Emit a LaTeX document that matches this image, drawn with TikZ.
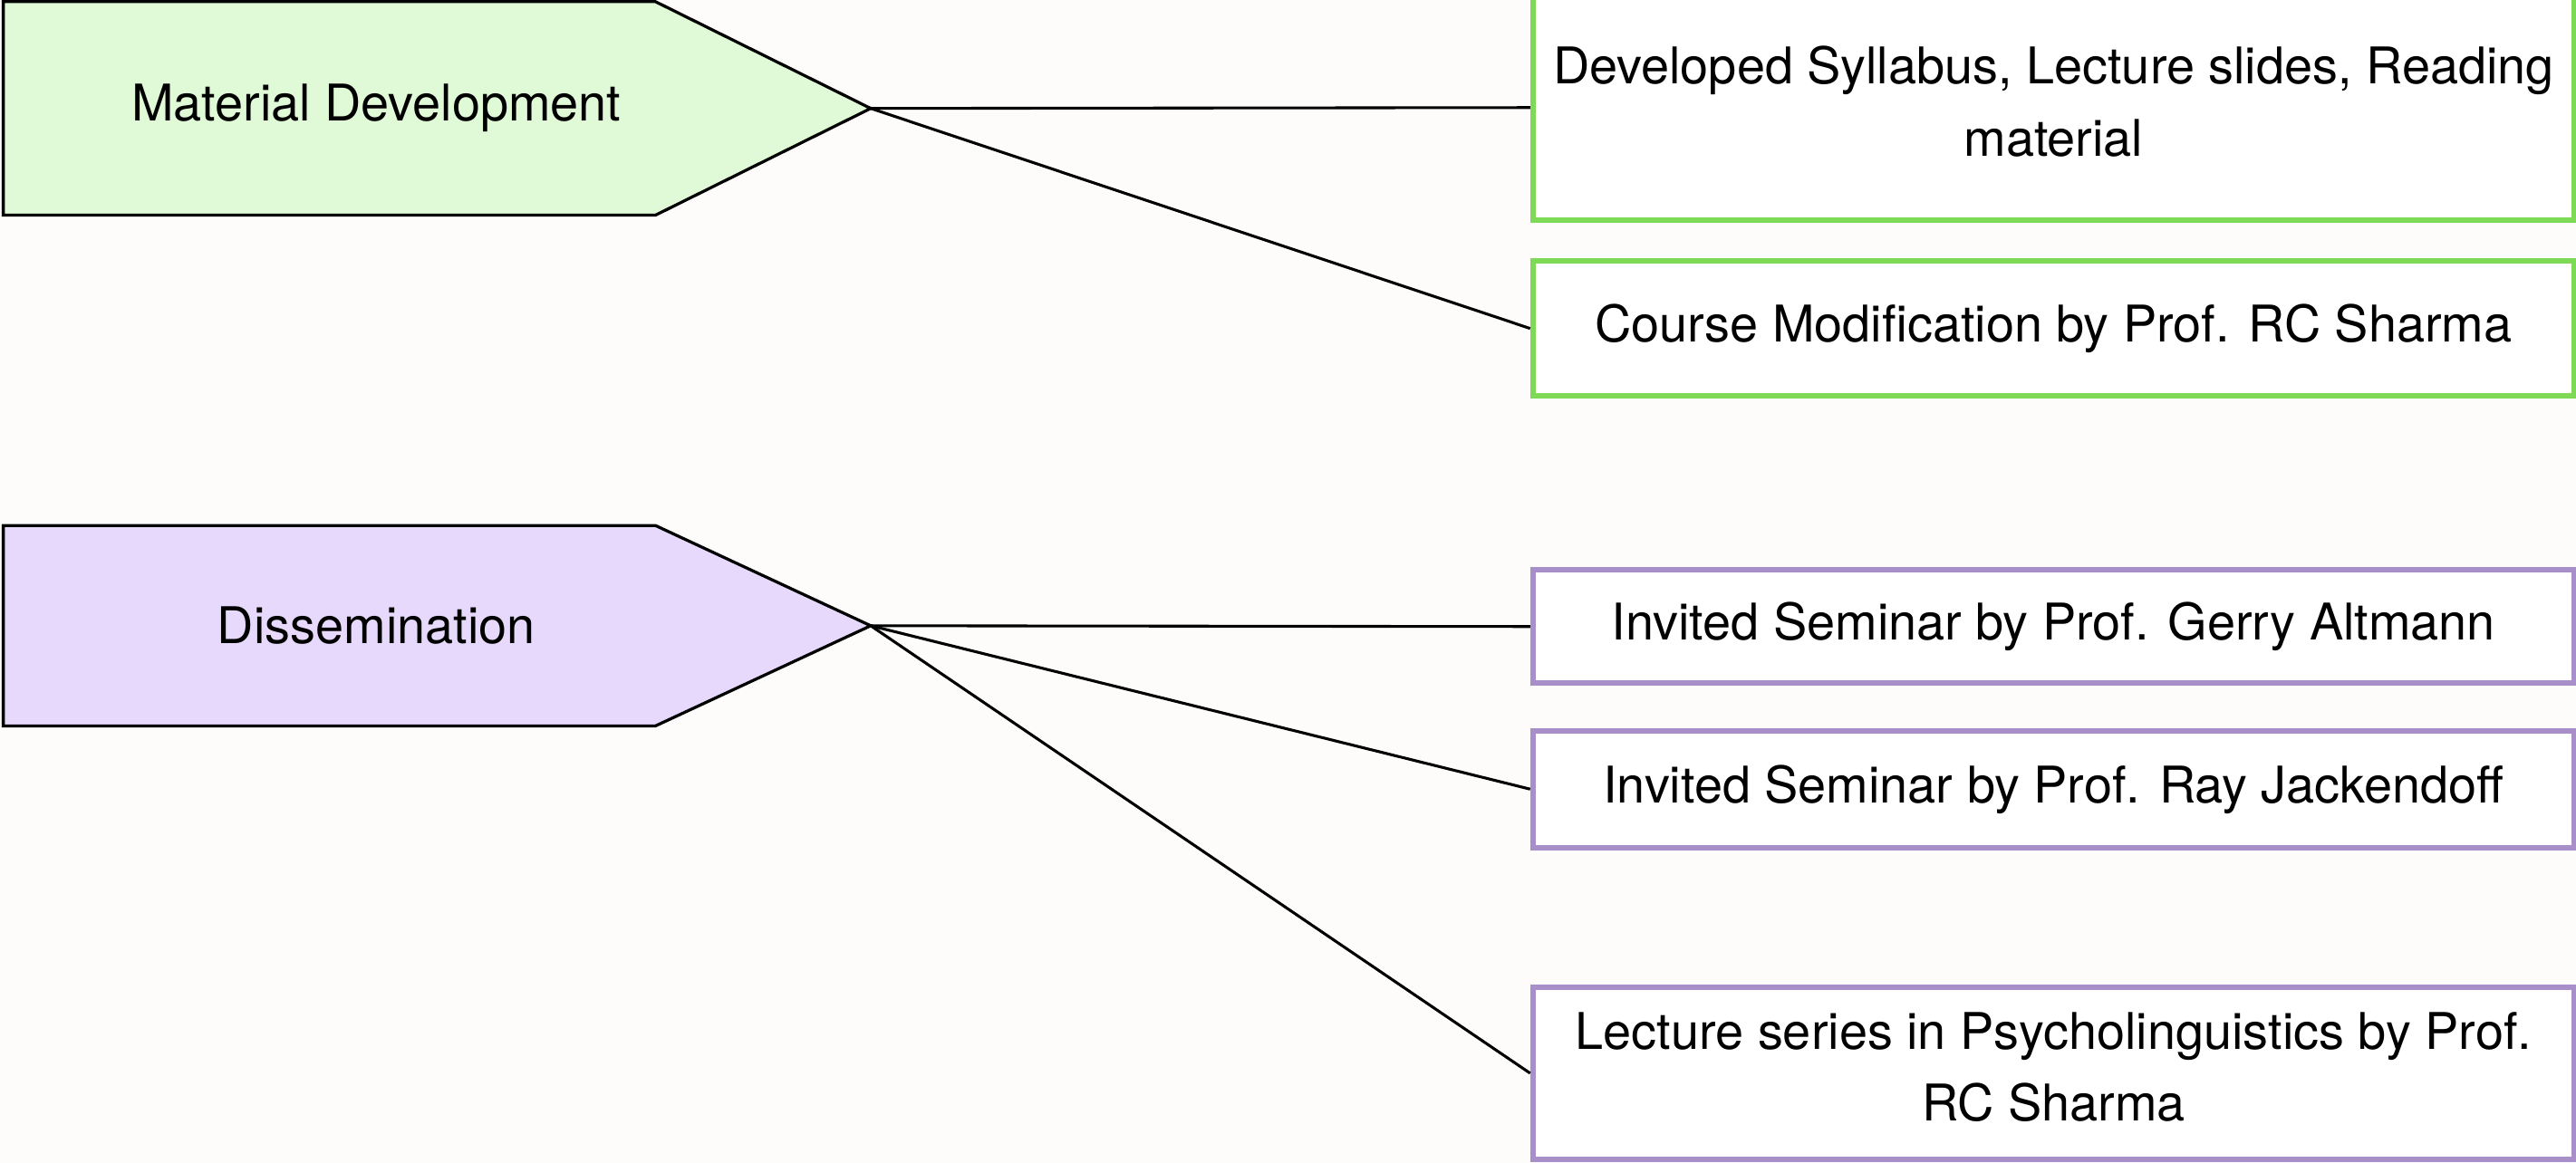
\documentclass[tikz,border=0pt]{standalone}
\usepackage{fontspec}
\setmainfont{TeX Gyre Heros}
\definecolor{bgc}{RGB}{253,252,250}
\definecolor{gfill}{RGB}{224,249,214}
\definecolor{gline}{RGB}{126,217,87}
\definecolor{pfill}{RGB}{231,217,252}
\definecolor{pline}{RGB}{168,143,202}
\tikzset{
  lbl/.style={font=\fontsize{15.4pt}{22pt}\selectfont, text=black},
  tag/.style={draw=black, line width=0.9pt, line join=miter},
  itembox/.style={lbl, draw, line width=1.6pt, fill=white, rectangle, inner sep=0pt, align=center, minimum width=317pt},
  twoline/.style={text depth=4pt},
  gbox/.style={itembox, draw=gline},
  pbox/.style={itembox, draw=pline},
  link/.style={draw=black, line width=0.85pt}
}
\begin{document}
\begin{tikzpicture}[x=0.5pt,y=-0.5pt]
\useasboundingbox (0,0) rectangle (1568,708);
\fill[bgc] (0,0) rectangle (1568,708);
% pentagon tags
\draw[tag, fill=gfill] (2,1) -- (399,1) -- (530,66) coordinate (t1) -- (399,131) -- (2,131) -- cycle;
\node[lbl] (md) at (229,66) {Material Development};
\draw[tag, fill=pfill] (2,320) -- (399,320) -- (530,381) coordinate (t2) -- (399,442) -- (2,442) -- cycle;
\node[lbl] (ds) at (229,381) {Dissemination};
% boxes
\node[gbox, twoline, minimum height=68.5pt] (b1) at (1250,65.5) {Developed Syllabus, Lecture slides, Reading\\material};
\node[gbox, minimum height=41pt] (b2) at (1250,200) {Course Modification by Prof. RC Sharma};
\node[pbox, minimum height=34.5pt] (b3) at (1250,381.5) {Invited Seminar by Prof. Gerry Altmann};
\node[pbox, minimum height=35.5pt] (b4) at (1250,480.5) {Invited Seminar by Prof. Ray Jackendoff};
\node[pbox, twoline, minimum height=52.5pt] (b5) at (1250,653.5) {Lecture series in Psycholinguistics by Prof.\\RC Sharma};
% connectors
\draw[link] (t1) -- (b1.west);
\draw[link] (t1) -- (b2.west);
\draw[link] (t2) -- (b3.west);
\draw[link] (t2) -- (b4.west);
\draw[link] (t2) -- (b5.west);
\end{tikzpicture}
\end{document}
